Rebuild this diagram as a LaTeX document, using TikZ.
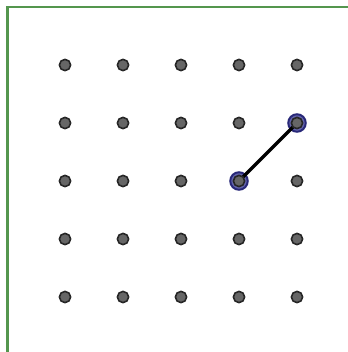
\documentclass[tikz,border=0pt]{standalone}
\definecolor{framegreen}{RGB}{84,150,78}
\definecolor{pickblue}{RGB}{98,98,170}
\definecolor{pickring}{RGB}{40,40,120}
\begin{document}
\begin{tikzpicture}[x=0.02cm,y=-0.02cm,
  peg/.style={circle,inner sep=0pt,minimum size=6.4pt,fill=black!60,draw=black!85,line width=0.9pt},
  picked/.style={circle,inner sep=0pt,minimum size=10pt,fill=pickblue,draw=pickring,line width=1.1pt},
  frame/.style={line width=1.3pt,framegreen}]
  \useasboundingbox (0,0) rectangle (348,352);
  \draw[frame] (348,7) -- (7.5,7) -- (7.5,352);
  \node[picked] (s1) at (297,123) {};
  \node[picked] (s2) at (239,181) {};
  \draw[line width=1.9pt,black] (s1.center) -- (s2.center);
  \node[peg] (p11) at (65,65) {};
  \node[peg] (p12) at (123,65) {};
  \node[peg] (p13) at (181,65) {};
  \node[peg] (p14) at (239,65) {};
  \node[peg] (p15) at (297,65) {};
  \node[peg] (p21) at (65,123) {};
  \node[peg] (p22) at (123,123) {};
  \node[peg] (p23) at (181,123) {};
  \node[peg] (p24) at (239,123) {};
  \node[peg] (p25) at (297,123) {};
  \node[peg] (p31) at (65,181) {};
  \node[peg] (p32) at (123,181) {};
  \node[peg] (p33) at (181,181) {};
  \node[peg] (p34) at (239,181) {};
  \node[peg] (p35) at (297,181) {};
  \node[peg] (p41) at (65,239) {};
  \node[peg] (p42) at (123,239) {};
  \node[peg] (p43) at (181,239) {};
  \node[peg] (p44) at (239,239) {};
  \node[peg] (p45) at (297,239) {};
  \node[peg] (p51) at (65,297) {};
  \node[peg] (p52) at (123,297) {};
  \node[peg] (p53) at (181,297) {};
  \node[peg] (p54) at (239,297) {};
  \node[peg] (p55) at (297,297) {};
\end{tikzpicture}
\end{document}
